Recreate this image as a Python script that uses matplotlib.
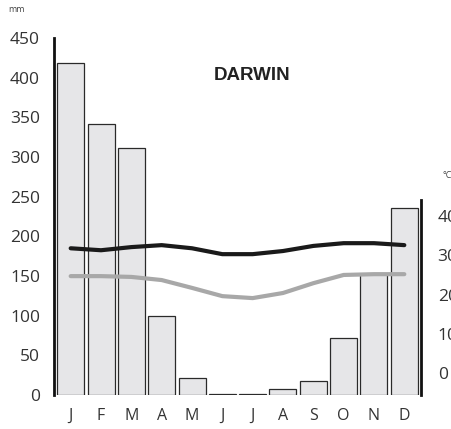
import matplotlib.pyplot as plt
import numpy as np

plt.rcParams['font.family'] = ['Open Sans', 'DejaVu Sans']

# Darwin climate: monthly rainfall (mm) and temperatures (deg C)
months = ['J', 'F', 'M', 'A', 'M', 'J', 'J', 'A', 'S', 'O', 'N', 'D']
rain = [418, 342, 311, 100, 21, 1.5, 1.5, 7, 18, 72, 152, 236]
t_max = [31.8, 31.3, 32.1, 32.6, 31.8, 30.3, 30.3, 31.1, 32.4, 33.1, 33.1, 32.6]
t_min = [24.7, 24.7, 24.5, 23.7, 21.7, 19.6, 19.1, 20.4, 22.9, 25.0, 25.2, 25.2]

rain_ticks = [0, 50, 100, 150, 200, 250, 300, 350, 400, 450]
temp_ticks = [0, 10, 20, 30, 40]

W, H = 452, 429
fig = plt.figure(figsize=(W / 100, H / 100), dpi=100)
ax = fig.add_axes([54 / W, (H - 395) / H, (421 - 54) / W, (395 - 38) / H])

x = np.arange(len(months))
ax.bar(x, rain, width=0.89, color='#e6e6e8', edgecolor='#2a2a2a', linewidth=0.9, zorder=2)
ax.set_xlim(-0.55, 11.55)
ax.set_ylim(0, 450)
ax.set_yticks(rain_ticks)
ax.set_xticks(x)
ax.set_xticklabels(months)
ax.tick_params(axis='y', length=0, pad=10, labelsize=12.5, labelcolor='#333333')
ax.tick_params(axis='x', length=0, pad=9, labelsize=11.5, labelcolor='#333333')
for s in ['top', 'right', 'bottom']:
    ax.spines[s].set_visible(False)
ax.spines['left'].set_linewidth(2)
ax.spines['left'].set_color('#111111')

# temperature on a second axis; right labels run off the edge as in the original
ax2 = ax.twinx()
ax2.plot(x, t_max, color='#1a1a1a', linewidth=3, solid_capstyle='round', zorder=4)
ax2.plot(x, t_min, color='#a8a8a8', linewidth=3, solid_capstyle='round', zorder=3)
ax2.set_ylim(-5.6, 85.4)
ax2.set_yticks(temp_ticks)
ax2.tick_params(axis='y', length=0, pad=12, labelsize=12.5, labelcolor='#333333')
for s in ['top', 'left', 'bottom']:
    ax2.spines[s].set_visible(False)
ax2.spines['right'].set_bounds(-5.6, 44)
ax2.spines['right'].set_linewidth(2)
ax2.spines['right'].set_color('#111111')

fig.text(252 / W, 1 - 75 / H, 'DARWIN', ha='center', va='center',
         fontsize=13.5, fontweight='bold', color='#222222', family='Liberation Sans')
fig.text(8 / W, 1 - 9 / H, 'mm', ha='left', va='center', fontsize=6.5, color='#444444')
fig.text(443 / W, 1 - 175 / H, '°C', ha='left', va='center', fontsize=6.5, color='#444444')

fig.savefig('out.png', dpi=100)
